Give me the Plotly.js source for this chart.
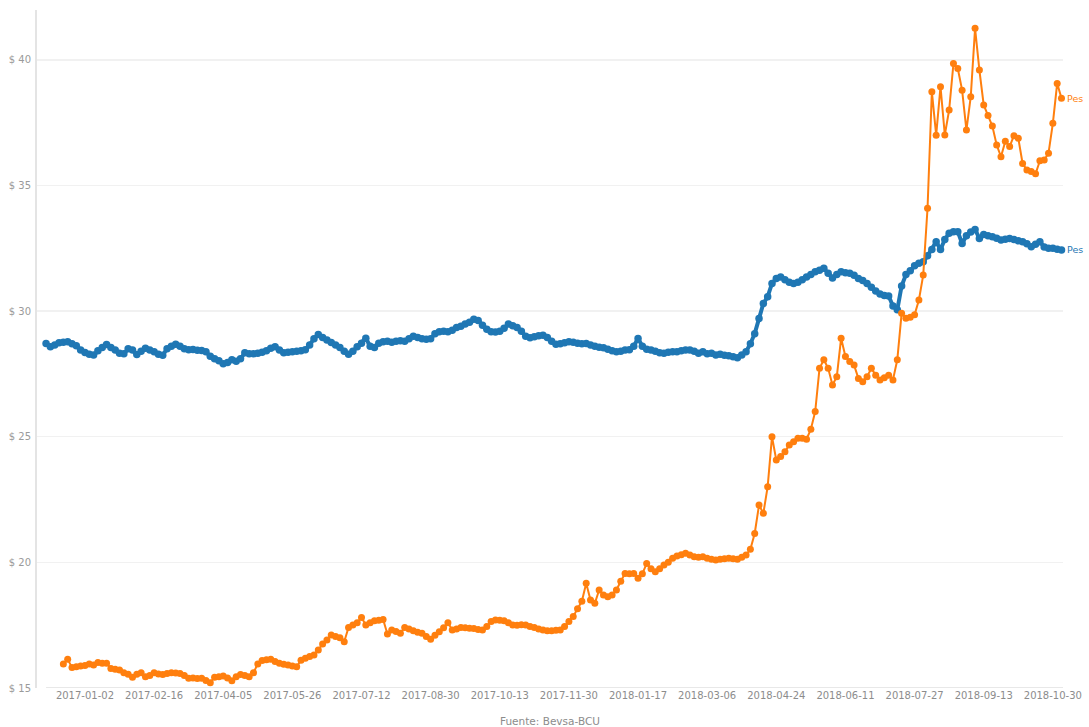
<!DOCTYPE html>
<html>
<head>
<meta charset="utf-8">
<script src="https://cdn.plot.ly/plotly-3.0.1.min.js"></script>
<style>
  html, body { margin: 0; padding: 0; background: #ffffff; }
  #chart { width: 1089px; height: 727px; }
</style>
</head>
<body>
<div id="chart"></div>
<script>
// Tick labels (category dates shown on the x axis) and their positions in the series
const tickLabels = ['2017-01-02','2017-02-16','2017-04-05','2017-05-26','2017-07-12','2017-08-30','2017-10-13','2017-11-30','2018-01-17','2018-03-06','2018-04-24','2018-06-11','2018-07-27','2018-09-13','2018-10-30'];
const tickIndex = [9,25,41,57,73,89,105,121,137,153,169,185,201,217,233];

const yTickVals = [15, 20, 25, 30, 35, 40];
const yTickText = ['$ 15', '$ 20', '$ 25', '$ 30', '$ 35', '$ 40'];

// End labels as visible in the reference (cut at the image edge)
const seriesNames = ['Pes', 'Pes'];

// Blue series (starts at index 0)
const blueValues = [
  28.71,28.58,28.65,28.74,28.76,28.78,28.70,28.62,28.45,28.35,
  28.28,28.25,28.42,28.55,28.67,28.55,28.45,28.32,28.30,28.50,
  28.45,28.27,28.40,28.52,28.45,28.38,28.28,28.24,28.50,28.60,
  28.68,28.60,28.50,28.46,28.47,28.44,28.43,28.38,28.20,28.10,
  28.02,27.90,27.95,28.06,28.00,28.10,28.34,28.30,28.30,28.32,
  28.36,28.42,28.52,28.58,28.45,28.34,28.36,28.38,28.40,28.42,
  28.46,28.65,28.90,29.07,28.95,28.85,28.75,28.65,28.55,28.40,
  28.28,28.40,28.58,28.72,28.92,28.60,28.55,28.72,28.78,28.80,
  28.76,28.80,28.82,28.80,28.90,29.00,28.95,28.90,28.88,28.90,
  29.10,29.18,29.20,29.18,29.24,29.35,29.40,29.48,29.55,29.67,
  29.62,29.44,29.28,29.18,29.17,29.20,29.32,29.48,29.42,29.35,
  29.20,29.00,28.94,28.98,29.02,29.04,28.95,28.80,28.68,28.70,
  28.74,28.78,28.76,28.72,28.70,28.71,28.65,28.60,28.56,28.54,
  28.48,28.42,28.38,28.40,28.45,28.46,28.60,28.91,28.60,28.48,
  28.45,28.40,28.34,28.32,28.36,28.38,28.38,28.42,28.45,28.45,
  28.40,28.32,28.38,28.30,28.32,28.25,28.28,28.24,28.22,28.18,
  28.14,28.25,28.38,28.70,29.10,29.70,30.30,30.57,31.10,31.30,
  31.36,31.25,31.15,31.10,31.15,31.25,31.36,31.45,31.56,31.62,
  31.70,31.50,31.32,31.45,31.56,31.52,31.50,31.42,31.30,31.22,
  31.10,30.95,30.80,30.68,30.62,30.60,30.20,30.05,31.00,31.45,
  31.60,31.80,31.90,31.96,32.20,32.45,32.76,32.45,32.85,33.10,
  33.16,33.16,32.69,33.00,33.15,33.25,32.89,33.05,33.00,32.96,
  32.90,32.83,32.86,32.89,32.85,32.80,32.76,32.68,32.56,32.66,
  32.76,32.55,32.50,32.50,32.46,32.43
];

// Orange series (starts at index 4)
const orangeStart = 4;
const orangeValues = [
  15.96,16.14,15.82,15.85,15.88,15.90,
  15.96,15.92,16.01,15.98,15.98,15.78,15.75,15.72,15.61,15.55,
  15.43,15.55,15.61,15.45,15.50,15.61,15.56,15.54,15.58,15.61,
  15.60,15.58,15.50,15.39,15.40,15.38,15.39,15.30,15.21,15.43,
  15.45,15.48,15.40,15.29,15.45,15.54,15.50,15.45,15.61,15.96,
  16.09,16.12,16.14,16.05,15.98,15.95,15.92,15.88,15.85,16.10,
  16.18,16.25,16.31,16.51,16.75,16.91,17.11,17.05,17.00,16.84,
  17.41,17.51,17.60,17.81,17.51,17.60,17.68,17.70,17.73,17.15,
  17.31,17.25,17.18,17.41,17.35,17.28,17.22,17.18,17.05,16.94,
  17.10,17.24,17.40,17.60,17.31,17.35,17.41,17.40,17.38,17.37,
  17.33,17.31,17.45,17.65,17.71,17.70,17.68,17.60,17.51,17.50,
  17.52,17.51,17.45,17.41,17.35,17.31,17.28,17.28,17.30,17.31,
  17.45,17.65,17.85,18.15,18.45,19.17,18.50,18.37,18.90,18.70,
  18.63,18.70,18.90,19.25,19.56,19.55,19.56,19.37,19.55,19.95,
  19.75,19.63,19.75,19.89,20.00,20.16,20.25,20.30,20.36,20.29,
  20.22,20.20,20.22,20.16,20.12,20.09,20.12,20.14,20.16,20.14,
  20.12,20.20,20.29,20.52,21.15,22.28,21.95,23.01,25.00,24.07,
  24.21,24.40,24.67,24.80,24.94,24.94,24.90,25.30,26.00,27.72,
  28.06,27.72,27.06,27.39,28.92,28.19,27.99,27.85,27.32,27.19,
  27.39,27.72,27.45,27.26,27.35,27.45,27.26,28.06,29.91,29.71,
  29.75,29.85,30.44,31.43,34.09,38.73,37.00,38.93,37.01,38.00,
  39.85,39.65,38.79,37.20,38.53,41.25,39.59,38.20,37.78,37.36,
  36.61,36.14,36.76,36.55,36.98,36.88,35.87,35.61,35.55,35.46,
  35.98,36.01,36.28,37.47,39.06,38.47
];

const sourceText = 'Fuente: Bevsa-BCU';

const BLUE = '#1f77b4';
const ORANGE = '#ff7f0e';

const blueX = blueValues.map((_, i) => i);
const orangeX = orangeValues.map((_, i) => i + orangeStart);

const traces = [
  {
    type: 'scatter', mode: 'lines+markers', name: seriesNames[1],
    x: blueX, y: blueValues,
    line: { color: BLUE, width: 4 },
    marker: { color: BLUE, size: 7.5 },
    cliponaxis: false, hoverinfo: 'skip'
  },
  {
    type: 'scatter', mode: 'lines+markers', name: seriesNames[0],
    x: orangeX, y: orangeValues,
    line: { color: ORANGE, width: 2 },
    marker: { color: ORANGE, size: 7 },
    cliponaxis: false, hoverinfo: 'skip'
  }
];

const lastBlue = blueX.length - 1;
const lastOrange = orangeX[orangeX.length - 1];

const layout = {
  width: 1089, height: 727,
  margin: { l: 37, r: 26, t: 10, b: 39, pad: 0 },
  paper_bgcolor: '#ffffff', plot_bgcolor: '#ffffff',
  showlegend: false,
  font: { family: 'DejaVu Sans, sans-serif', size: 10, color: '#999999' },
  xaxis: {
    type: 'linear', range: [-2.1, 235.35],
    tickmode: 'array', tickvals: tickIndex, ticktext: tickLabels,
    showgrid: false, zeroline: false, showline: false, ticks: '',
    tickfont: { family: 'DejaVu Sans, sans-serif', size: 10, color: '#8c8c8c' },
    fixedrange: true
  },
  yaxis: {
    range: [15, 41.98],
    tickmode: 'array', tickvals: yTickVals, ticktext: yTickText,
    showgrid: true, gridcolor: '#f1f1f1', gridwidth: 1.5,
    zeroline: false, showline: true, linecolor: '#e4e4e4', linewidth: 2,
    ticks: '', ticklabelstandoff: 2,
    tickfont: { family: 'DejaVu Sans, sans-serif', size: 10, color: '#9a9a9a' },
    fixedrange: true
  },
  shapes: [
    { type: 'line', xref: 'x', yref: 'y', x0: 0, x1: lastBlue + 0.35, y0: 15, y1: 15,
      line: { color: '#e8e8e8', width: 2 }, layer: 'below' }
  ],
  annotations: [
    { xref: 'x', yref: 'y', x: lastOrange, y: orangeValues[orangeValues.length - 1],
      text: seriesNames[0], showarrow: false, xanchor: 'left', yanchor: 'middle', xshift: 4,
      font: { family: 'DejaVu Sans, sans-serif', size: 9.5, color: ORANGE } },
    { xref: 'x', yref: 'y', x: lastBlue, y: blueValues[lastBlue],
      text: seriesNames[1], showarrow: false, xanchor: 'left', yanchor: 'middle', xshift: 4,
      font: { family: 'DejaVu Sans, sans-serif', size: 9.5, color: BLUE } },
    { xref: 'paper', yref: 'paper', x: 0.5, y: -0.0487,
      text: sourceText, showarrow: false, xanchor: 'center', yanchor: 'middle',
      font: { family: 'DejaVu Sans, sans-serif', size: 10.5, color: '#8c8c8c' } }
  ]
};

Plotly.newPlot('chart', traces, layout, { displayModeBar: false, staticPlot: true });
</script>
</body>
</html>
